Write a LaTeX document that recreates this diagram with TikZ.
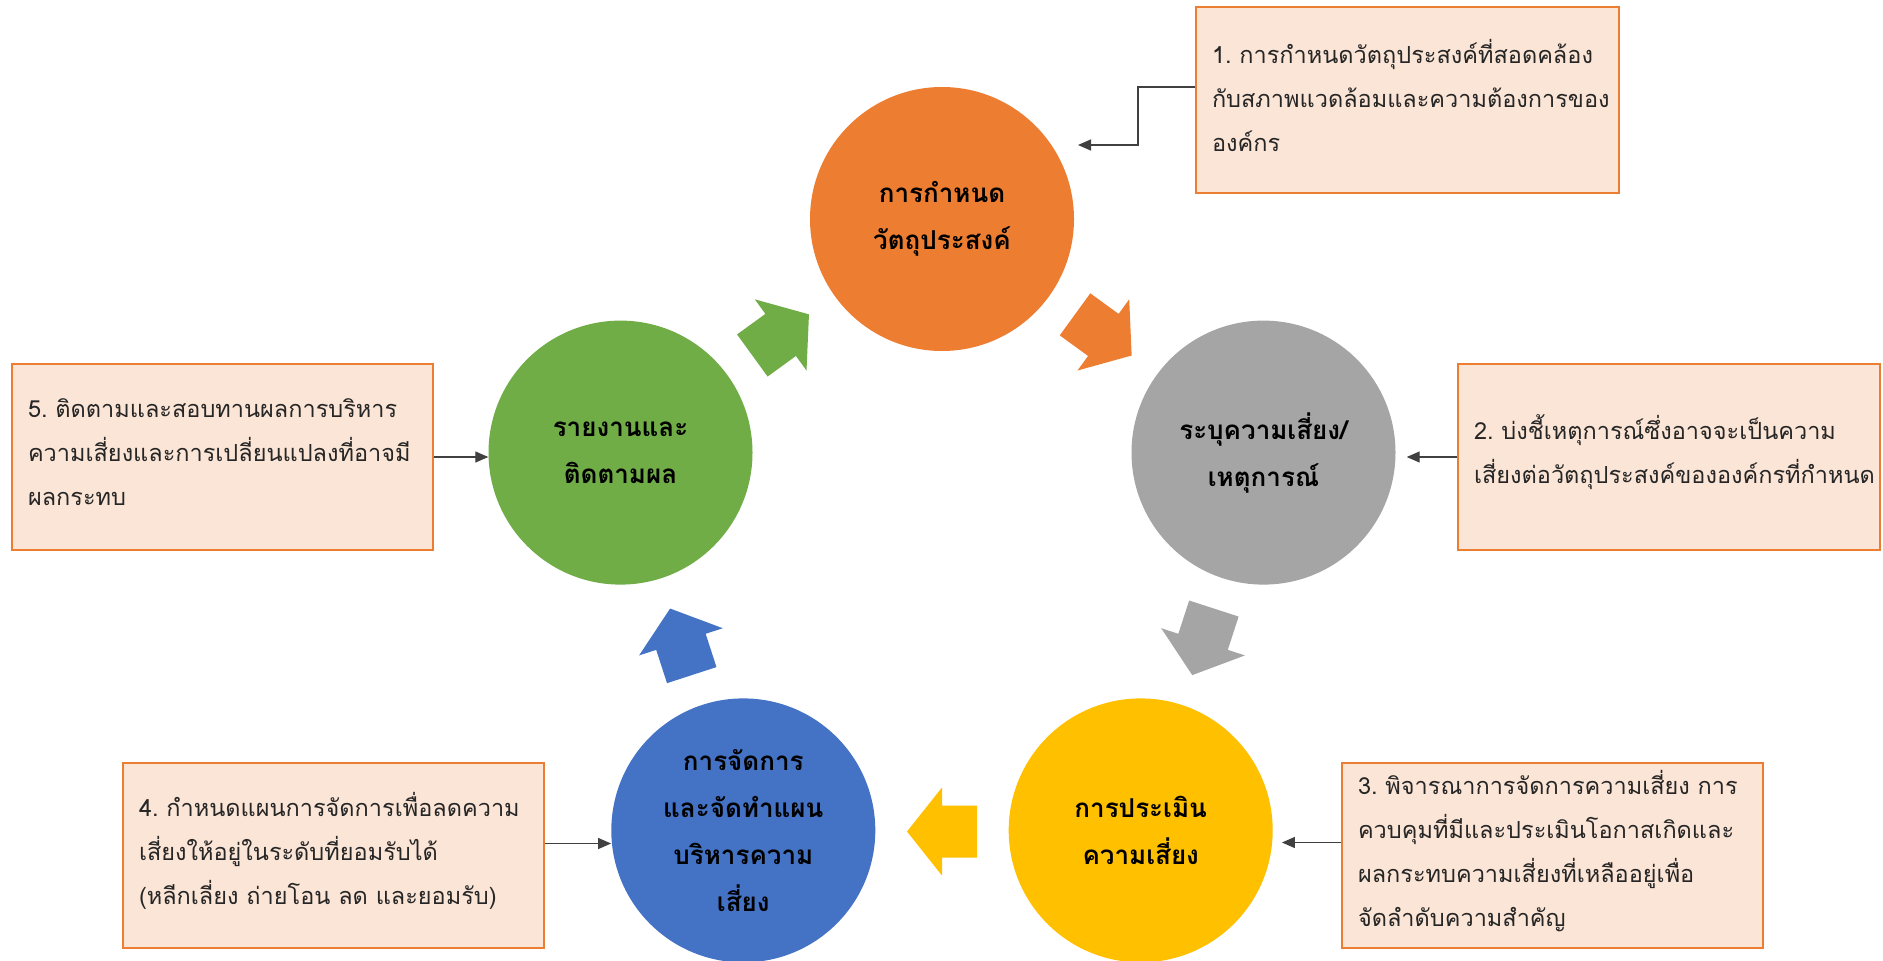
\documentclass[tikz,border=0pt]{standalone}
\usepackage{fontspec}
\newfontfamily\thai[Script=Thai,WordSpace=0.6]{Loma}
\usetikzlibrary{arrows.meta,calc}
\definecolor{cOrange}{HTML}{ED7D31}
\definecolor{cGray}{HTML}{A5A5A5}
\definecolor{cYellow}{HTML}{FFC000}
\definecolor{cBlue}{HTML}{4472C4}
\definecolor{cGreen}{HTML}{70AD47}
\definecolor{cPeach}{HTML}{FBE5D6}
\definecolor{cText}{HTML}{262626}
\newcommand{\notepad}{\par\vspace{9pt}}
\begin{document}
\begin{tikzpicture}[x=1pt,y=-1pt,
  circ/.style={circle,minimum size=264pt,inner sep=0pt,align=center,
    font=\thai\bfseries\fontsize{26}{47}\selectfont,text=black},
  note/.style={rectangle,draw=cOrange,line width=2pt,fill=cPeach,
    anchor=north west,align=left,inner xsep=16pt,inner ysep=0pt,
    text=cText,font=\thai\fontsize{23.5}{44}\selectfont},
  conn/.style={draw=black!75,line width=1.2pt,-{Triangle[length=13pt,width=11pt]}}]
\useasboundingbox (0,0) rectangle (1883,961);
\fill[white] (0,0) rectangle (1883,961);

% circles
\node[circ,fill=cOrange] (orange) at (942,219) {การกำหนด\\วัตถุประสงค์};
\node[circ,fill=cGray] (gray) at (1263.5,452.6) {ระบุความเสี่ยง/\\เหตุการณ์};
\node[circ,fill=cYellow] (yellow) at (1140.7,830.4) {การประเมิน\\ความเสี่ยง};
\node[circ,fill=cBlue] (blue) at (743.3,830.4) {การจัดการ\\และจัดทำแผน\\บริหารความ\\เสี่ยง};
\node[circ,fill=cGreen] (green) at (620.5,452.6) {รายงานและ\\ติดตามผล};

% block arrows
\foreach \a/\c in {-54/cOrange,18/cGray,90/cYellow,162/cBlue,234/cGreen}{
  \begin{scope}[shift={(942,557)},shift={(\a:274.5)},rotate={-(\a)-90}]
    \fill[\c] (-35,-26) -- (0,-26) -- (0,-44) -- (35,0) -- (0,44) -- (0,26) -- (-35,26) -- cycle;
  \end{scope}
}

% notes
\node[note,text width=391pt,minimum height=186pt] (b1) at (1195,6)
  {1.~การกำหนดวัตถุประสงค์ที่สอดคล้อง\\กับสภาพแวดล้อมและความต้องการของ\\องค์กร\notepad};
\node[note,text width=390pt,minimum height=186pt] (b2) at (1457,363)
  {2.~บ่งชี้เหตุการณ์ซึ่งอาจจะเป็นความ\\เสี่ยงต่อวัตถุประสงค์ขององค์กรที่กำหนด\notepad};
\node[note,text width=389pt,minimum height=185pt] (b3) at (1341,762)
  {3.~พิจารณาการจัดการความเสี่ยง~การ\\ควบคุมที่มีและประเมินโอกาสเกิดและ\\ผลกระทบความเสี่ยงที่เหลืออยู่เพื่อ\\จัดลำดับความสำคัญ\notepad};
\node[note,text width=389pt,minimum height=185pt] (b4) at (122,762)
  {4.~กำหนดแผนการจัดการเพื่อลดความ\\เสี่ยงให้อยู่ในระดับที่ยอมรับได้\\(หลีกเลี่ยง~ถ่ายโอน~ลด~และยอมรับ)\notepad};
\node[note,text width=389pt,minimum height=186pt] (b5) at (11,363)
  {5.~ติดตามและสอบทานผลการบริหาร\\ความเสี่ยงและการเปลี่ยนแปลงที่อาจมี\\ผลกระทบ\notepad};

% connectors
\coordinate (t1) at (1078,145);
\draw[conn] ([yshift=13pt]b1.west) -- ++(-57,0) |- (t1);
\draw[conn,shorten >=11pt] (b2.west) -- (b2.west -| gray.east);
\draw[conn,shorten >=9pt] ([yshift=13pt]b3.west) -- ([yshift=13pt]b3.west -| yellow.east);
\draw[conn] ([yshift=12pt]b4.east) -- ([yshift=12pt]b4.east -| blue.west);
\draw[conn] (b5.east) -- (b5.east -| green.west);
\end{tikzpicture}
\end{document}
